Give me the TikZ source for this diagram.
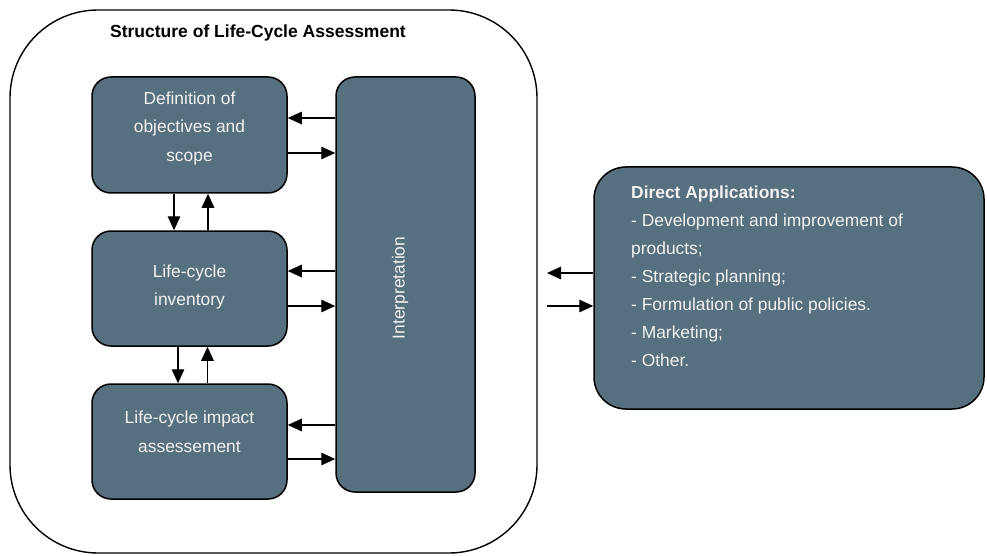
\documentclass[tikz,border=0pt]{standalone}
\usepackage{fontspec}
\setmainfont{Liberation Sans}
\usetikzlibrary{arrows.meta,calc}
\definecolor{slate}{RGB}{86,112,128}
\definecolor{paletext}{RGB}{242,242,242}
\tikzset{
  box/.style={draw=black, line width=1.5pt, fill=slate, rectangle, rounded corners=19pt, inner sep=0pt},
  boxtext/.style={text=paletext, align=center, font=\fontsize{17.4}{28.5}\selectfont, inner sep=0pt},
  arr/.style={line width=1.4pt, -{Triangle[length=14pt,width=12.5pt]}}
}
\begin{document}
\begin{tikzpicture}[x=1pt,y=-1pt]
\useasboundingbox (0,0) rectangle (987,556);
% outer frame
\node[draw=black, line width=1.4pt, rounded corners=88pt, minimum width=527pt, minimum height=543pt, inner sep=0pt] (outer) at (273.5,281.5) {};
\node[font=\bfseries\fontsize{17.5}{20}\selectfont, inner sep=0pt] (title) at (258,33) {Structure of Life-Cycle Assessment};
% left boxes
\node[box, minimum width=195pt, minimum height=116pt] (b1) at (189.5,135) {};
\node[box, minimum width=195pt, minimum height=115pt] (b2) at (189.5,288.5) {};
\node[box, minimum width=195pt, minimum height=115pt] (b3) at (189.5,441.5) {};
\node[boxtext] (t1) at (189.5,128.5) {Definition of\\objectives and\\scope};
\node[boxtext] (t2) at (189.5,287) {Life-cycle\\inventory};
\node[boxtext] (t3) at (189.5,432) {Life-cycle impact\\assessement};
% interpretation
\node[box, minimum width=139pt, minimum height=415pt] (interp) at (405.5,284.5) {};
\node[boxtext, rotate=90] (ti) at (400,288) {Interpretation};
% applications
\node[box, rounded corners=32pt, minimum width=390pt, minimum height=242pt] (app) at (789,288) {};
\node[text=paletext, align=left, anchor=west, inner sep=0pt, font=\fontsize{17.4}{28}\selectfont] (ta) at (631,276) {\textbf{Direct Applications:}\\- Development and improvement of\\products;\\- Strategic planning;\\- Formulation of public policies.\\- Marketing;\\- Other.};
% vertical arrows
\draw[arr] ([xshift=-15.5pt]b1.south) -- ([xshift=-15.5pt]b2.north);
\draw[arr] ([xshift=18.5pt]b2.north) -- ([xshift=18.5pt]b1.south);
\draw[arr] ([xshift=-11.5pt]b2.south) -- ([xshift=-11.5pt]b3.north);
\draw[arr] ([xshift=18pt]b3.north) -- ([xshift=18pt]b2.south);
% horizontal arrows
\draw[arr] ([yshift=17pt]b1.east -| interp.west) -- ([yshift=17pt]b1.east);
\draw[arr] ([yshift=-18pt]b1.east) -- ([yshift=-18pt]b1.east -| interp.west);
\draw[arr] ([yshift=17.5pt]b2.east -| interp.west) -- ([yshift=17.5pt]b2.east);
\draw[arr] ([yshift=-17.5pt]b2.east) -- ([yshift=-17.5pt]b2.east -| interp.west);
\draw[arr] ([yshift=16.5pt]b3.east -| interp.west) -- ([yshift=16.5pt]b3.east);
\draw[arr] ([yshift=-17.5pt]b3.east) -- ([yshift=-17.5pt]b3.east -| interp.west);
% application arrows
\coordinate (l1) at (547,273);
\coordinate (l2) at (547,306);
\draw[arr] (l1 -| app.west) -- (l1);
\draw[arr] (l2) -- (l2 -| app.west);
\end{tikzpicture}
\end{document}
